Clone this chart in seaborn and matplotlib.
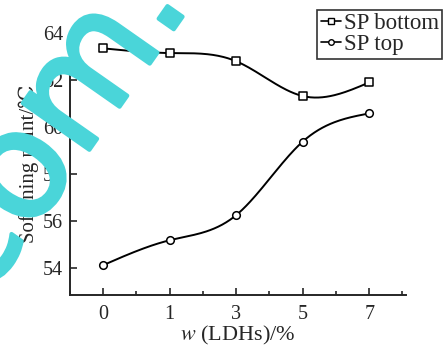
import numpy as np
import pandas as pd
import seaborn as sns
import matplotlib.pyplot as plt
import matplotlib.patheffects as pe
from matplotlib.lines import Line2D
from matplotlib.ticker import MultipleLocator

# data
ldh_labels = ["0", "1", "3", "5", "7"]
sp_bottom = [63.35, 63.15, 62.8, 61.32, 61.9]
sp_top = [54.12, 55.18, 56.25, 59.38, 60.58]


def natural_spline(y, n=200):
    # natural cubic spline on equally spaced positions 0..len(y)-1
    y = np.asarray(y, float)
    m = len(y)
    A = np.zeros((m, m))
    b = np.zeros(m)
    A[0, 0] = A[-1, -1] = 1
    for i in range(1, m - 1):
        A[i, i - 1], A[i, i], A[i, i + 1] = 1, 4, 1
        b[i] = 6 * (y[i + 1] - 2 * y[i] + y[i - 1])
    M = np.linalg.solve(A, b)
    xs = np.linspace(0, m - 1, n)
    idx = np.clip(xs.astype(int), 0, m - 2)
    t = xs - idx
    ys = ((1 - t) * y[idx] + t * y[idx + 1]
          + ((1 - t) ** 3 - (1 - t)) * M[idx] / 6
          + (t ** 3 - t) * M[idx + 1] / 6)
    return xs, ys


sns.set_style("ticks")
plt.rcParams["font.family"] = ["Liberation Serif", "DejaVu Serif"]
plt.rcParams["mathtext.fontset"] = "stix"

fig = plt.figure(figsize=(4.43, 3.47), dpi=100)
ax = fig.add_axes([0.158, 0.150, 0.758, 0.758])

pos = np.arange(len(ldh_labels))
for vals, mk in [(sp_bottom, "s"), (sp_top, "o")]:
    xs, ys = natural_spline(vals)
    sns.lineplot(x=xs, y=ys, ax=ax, color="black", lw=1.4, zorder=2)
    df = pd.DataFrame({"x": pos, "y": vals})
    sns.scatterplot(data=df, x="x", y="y", ax=ax, marker=mk, s=30,
                    facecolor="white", edgecolor="black", linewidth=1.1, zorder=3)

ax.set_xlim(-0.5, 4.55)
ax.set_ylim(52.85, 64.05)
ax.set_xticks(pos)
ax.set_xticklabels(ldh_labels)
ax.xaxis.set_minor_locator(MultipleLocator(0.5))
ax.set_yticks([54, 56, 58, 60, 62, 64])
ax.tick_params(axis="both", which="major", direction="in", length=5, width=1.2,
               labelsize=14.5, pad=5)
ax.tick_params(axis="x", which="major", pad=7)
ax.tick_params(axis="x", which="minor", direction="in", length=3, width=1.2)
for s in ["left", "bottom"]:
    ax.spines[s].set_linewidth(1.4)
sns.despine(ax=ax)

ax.set_xlabel(r"$\mathit{w}$ (LDHs)/%", fontsize=16, labelpad=0)
ax.set_ylabel("Softening point/℃", fontsize=15, labelpad=3)

handles = [
    Line2D([], [], color="black", lw=1.2, marker="s", markersize=4,
           markerfacecolor="white", markevery=[1]),
    Line2D([], [], color="black", lw=1.2, marker="o", markersize=4,
           markerfacecolor="white", markevery=[1]),
]
leg = fig.legend(handles, ["SP bottom", "SP top"], loc="upper left",
                 bbox_to_anchor=(0.716, 0.972), fontsize=16.5, frameon=True,
                 fancybox=False, edgecolor="black", handlelength=0.9,
                 handletextpad=0.1, borderpad=0.15, labelspacing=0.0,
                 borderaxespad=0)
leg.get_frame().set_linewidth(1.2)

# cyan watermark, drawn over the chart
fig.text(0.433, 0.990, "com.", color="#4ad5d9", fontsize=107,
         family="DejaVu Sans", rotation=55, rotation_mode="anchor",
         ha="right", va="baseline", zorder=10,
         path_effects=[pe.withStroke(linewidth=3, foreground="#4ad5d9")])

fig.savefig("out.png", dpi=100)
